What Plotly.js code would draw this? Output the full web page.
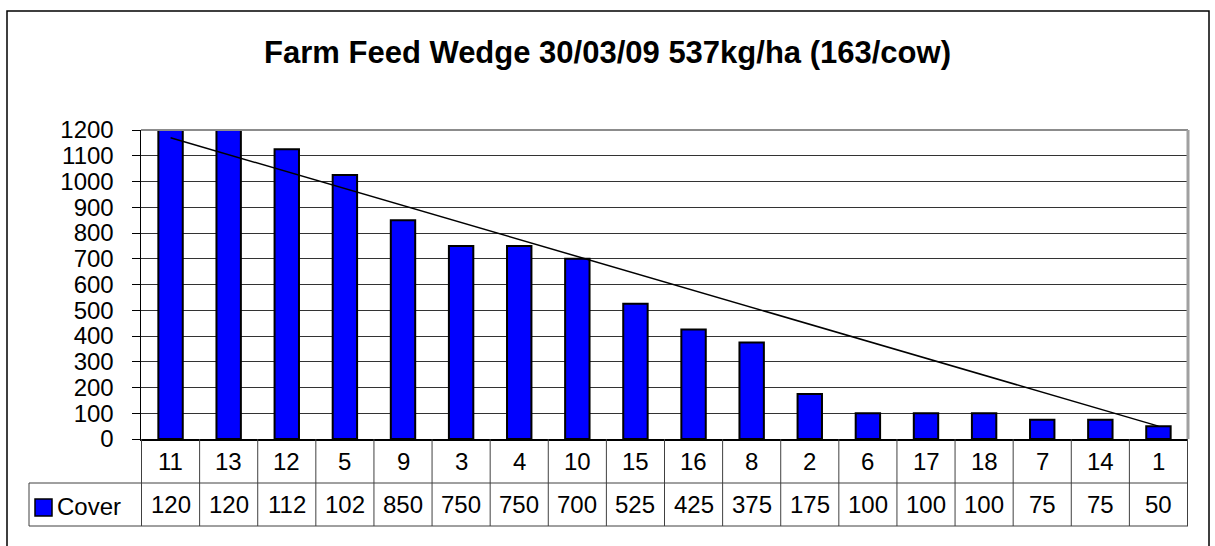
<!DOCTYPE html>
<html>
<head>
<meta charset="utf-8">
<script src="https://cdn.plot.ly/plotly-3.0.1.min.js"></script>
<style>html,body{margin:0;padding:0;background:#fff;}#chart{width:1215px;height:546px;}</style>
</head>
<body>
<div id="chart"></div>
<script>
// ---- data ----
const paddocks = ["11","13","12","5","9","3","4","10","15","16","8","2","6","17","18","7","14","1"];
const cover = [1200,1200,1125,1025,850,750,750,700,525,425,375,175,100,100,100,75,75,50];
const coverLabels = ["120","120","112","102","850","750","750","700","525","425","375","175","100","100","100","75","75","50"];
const wedgeEnds = [paddocks[0], paddocks[paddocks.length-1]];
const wedgeValues = [1170, 50];
const yTicks = [0,100,200,300,400,500,600,700,800,900,1000,1100,1200];
const seriesName = "Cover";
const titleText = "Farm Feed Wedge 30/03/09 537kg/ha (163/cow)";

// ---- layout helpers ----
const W = 1215, H = 546;
const L = 141, R = 1188, T = 130, B = 439;
const py = p => (B - p) / (B - T);       // pixel y -> paper y
const px = p => (p - L) / (R - L);       // pixel x -> paper x
const FONT = "Liberation Sans, Arial, sans-serif";
const lineCol = "#404040";
const FS = 24;

const traces = [
  {
    type: "bar", x: paddocks, y: cover, name: seriesName,
    marker: {color: "#0000FF", line: {color: "#000", width: 2}},
    showlegend: false, hoverinfo: "x+y"
  },
  {
    type: "scatter", mode: "lines", x: wedgeEnds, y: wedgeValues,
    line: {color: "#000", width: 1.5}, showlegend: false, hoverinfo: "skip"
  }
];

const shapes = [];
const annotations = [];
const row1Top = py(439), row1Bot = py(483), row2Bot = py(526);

// table vertical lines at category boundaries
for (let i = 0; i <= paddocks.length; i++) {
  shapes.push({type: "line", xref: "x", yref: "paper", x0: i - 0.5, x1: i - 0.5,
    y0: row1Top, y1: row2Bot, line: {color: lineCol, width: 1}});
}
// horizontal lines of table
shapes.push({type: "line", xref: "paper", yref: "paper", x0: px(29), x1: 1, y0: row1Bot, y1: row1Bot, line: {color: lineCol, width: 1}});
shapes.push({type: "line", xref: "paper", yref: "paper", x0: px(29), x1: 1, y0: row2Bot, y1: row2Bot, line: {color: lineCol, width: 1}});
shapes.push({type: "line", xref: "paper", yref: "paper", x0: px(29), x1: px(29), y0: row1Bot, y1: row2Bot, line: {color: lineCol, width: 1}});
// legend key square
shapes.push({type: "rect", xref: "paper", yref: "paper", x0: px(35), x1: px(52), y0: py(516), y1: py(499),
  fillcolor: "#0000FF", line: {color: "#000", width: 1.5}});
// plot area top and right border (gray)
shapes.push({type: "line", xref: "paper", yref: "paper", x0: 0, x1: 1, y0: 1, y1: 1, line: {color: "#8c8c8c", width: 2}});
shapes.push({type: "line", xref: "paper", yref: "paper", x0: 1, x1: 1, y0: 0, y1: 1, line: {color: "#a0a0a0", width: 3}});
// outer chart border
shapes.push({type: "rect", xref: "paper", yref: "paper", x0: px(7), x1: px(1209), y0: py(570), y1: py(11),
  line: {color: "#000", width: 1.5}, fillcolor: "rgba(0,0,0,0)"});

// table text (x given as category index)
paddocks.forEach((p, i) => {
  annotations.push({xref: "x", yref: "paper", x: i, y: py(461), text: p, showarrow: false,
    font: {family: FONT, size: FS, color: "#000"}, xanchor: "center", yanchor: "middle"});
  annotations.push({xref: "x", yref: "paper", x: i, y: py(505), text: coverLabels[i], showarrow: false,
    font: {family: FONT, size: FS, color: "#000"}, xanchor: "center", yanchor: "middle"});
});
annotations.push({xref: "paper", yref: "paper", x: px(55), y: py(506), text: seriesName, showarrow: false,
  font: {family: FONT, size: FS, color: "#000"}, xanchor: "left", yanchor: "middle"});

const layout = {
  width: W, height: H,
  margin: {l: L, r: W - R, t: T, b: H - B, pad: 0},
  paper_bgcolor: "#fff", plot_bgcolor: "#fff",
  font: {family: FONT, color: "#000"},
  title: {text: "<b>" + titleText + "</b>", xref: "container", yref: "container", x: 0.5, y: 1 - 52 / H,
    xanchor: "center", yanchor: "middle", font: {family: FONT, size: 31, color: "#000"}},
  bargap: 0.58,
  xaxis: {type: "category", showticklabels: false, ticks: "", showgrid: false, zeroline: false,
    showline: true, linecolor: "#000", linewidth: 1.5, fixedrange: true},
  yaxis: {range: [0, 1200], tickvals: yTicks, showgrid: true, gridcolor: "#333", gridwidth: 1,
    zeroline: false, showline: true, linecolor: "#000", linewidth: 1.5, ticks: "outside", ticklen: 8,
    tickcolor: "#000", ticklabelstandoff: 13, tickfont: {family: FONT, size: FS, color: "#000"}, fixedrange: true},
  shapes: shapes, annotations: annotations, showlegend: false
};

Plotly.newPlot("chart", traces, layout, {displayModeBar: false, staticPlot: true});
</script>
</body>
</html>
